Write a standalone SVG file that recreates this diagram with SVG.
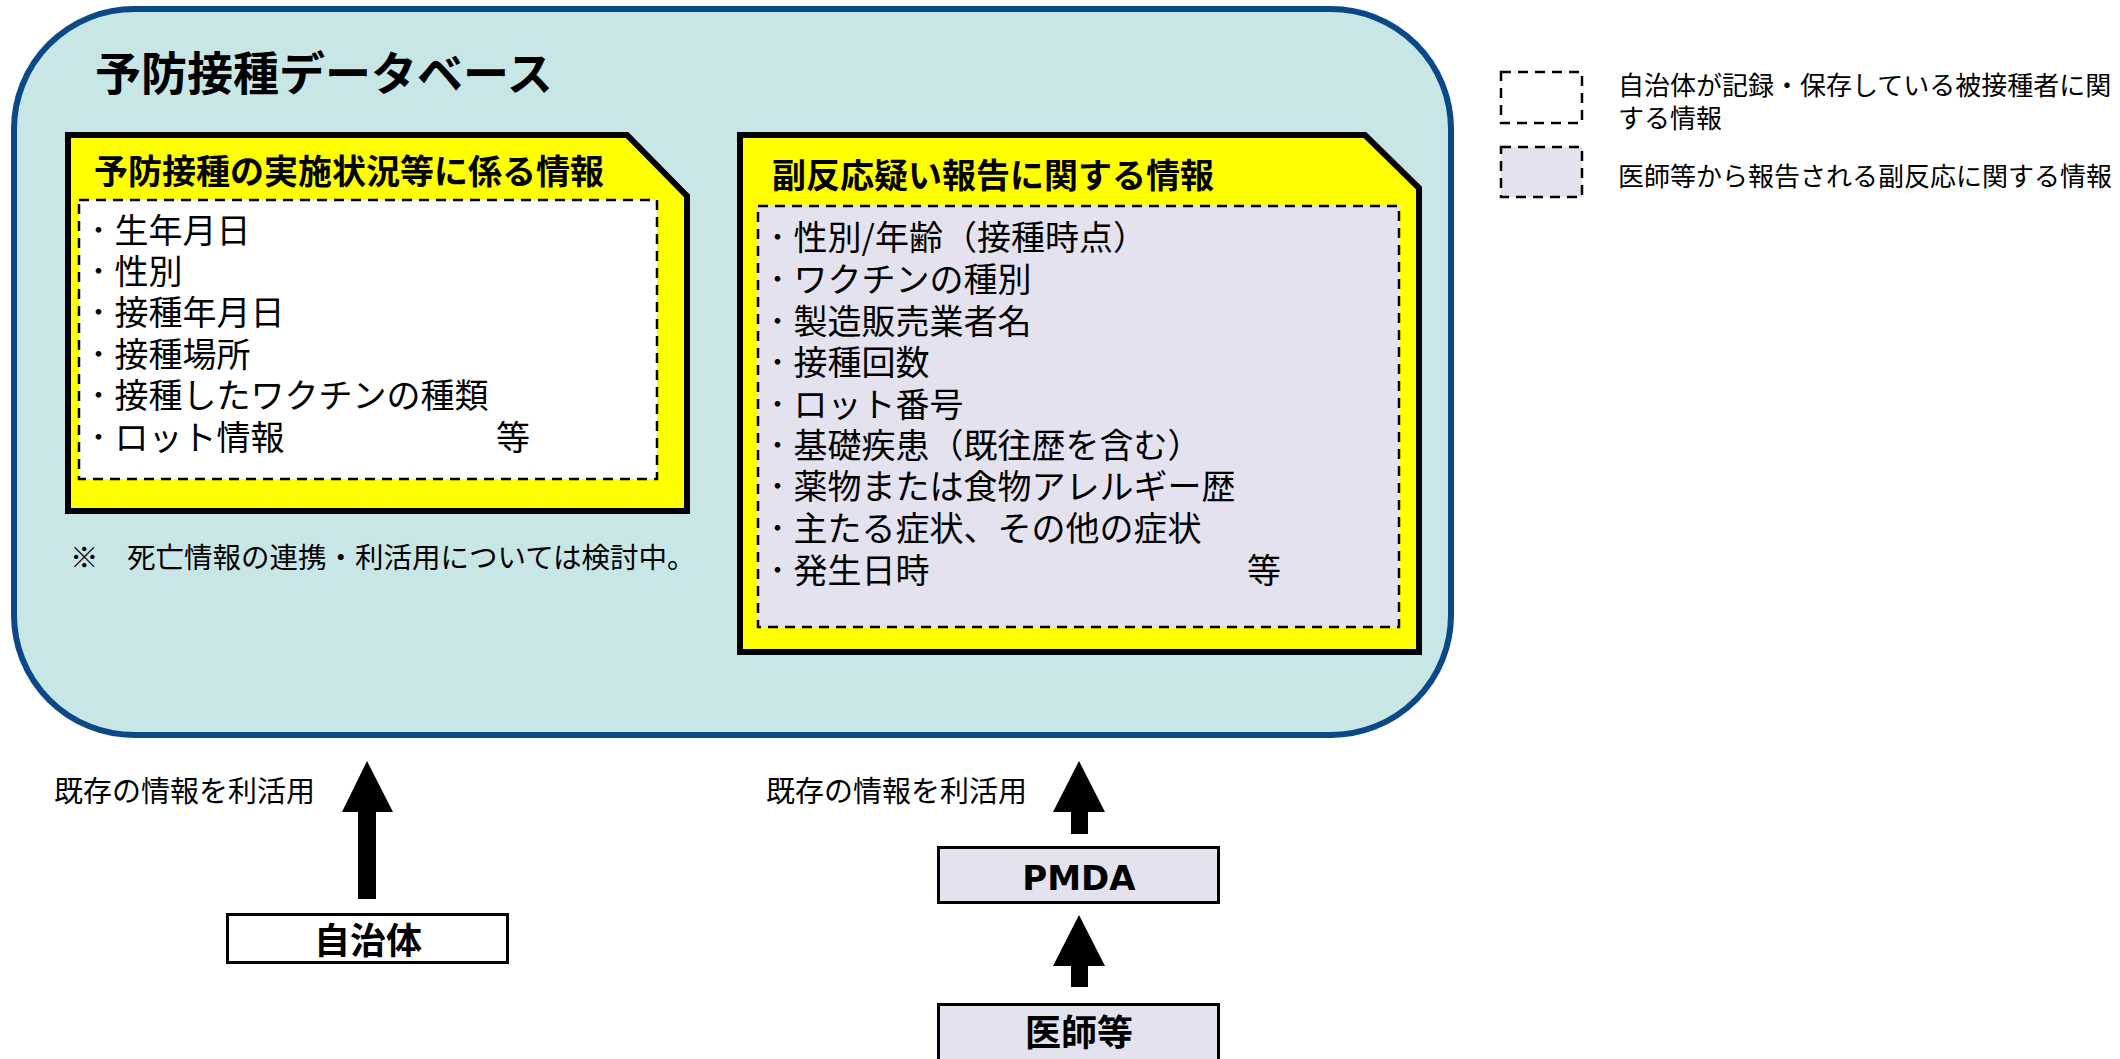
<svg xmlns="http://www.w3.org/2000/svg" width="2120" height="1059" viewBox="0 0 2120 1059">
<style>
.jp{font-family:"Noto Sans CJK JP","Noto Sans",sans-serif;fill:#000}
.b{font-weight:bold}
.item{font-size:34px}
.dash{stroke:#000;stroke-width:2.5;stroke-dasharray:10 7}
.yel{fill:#FFFF00;stroke:#000;stroke-width:6;stroke-linejoin:miter}
.lav{fill:#E3E2EE}
.node{stroke:#000;stroke-width:3}
.arrow{fill:#000}
</style>
<rect width="2120" height="1059" fill="#fff"/>
<g id="database">
<rect x="14" y="9" width="1437" height="726" rx="120" ry="120" fill="#C8E6E6" stroke="#0B4887" stroke-width="6"/>
<text class="jp b" x="95" y="90" font-size="46">予防接種データベース</text>
</g>
<g id="vaccination-info">
<path class="yel" d="M68 135 H627 L687 196 V511 H68 Z"/>
<text class="jp b" x="94" y="184" font-size="34">予防接種の実施状況等に係る情報</text>
<rect class="dash" x="79" y="200" width="578" height="279" fill="#fff"/>
<g class="jp item">
<text x="90" y="243">･ 生年月日</text>
<text x="90" y="284">･ 性別</text>
<text x="90" y="325">･ 接種年月日</text>
<text x="90" y="367">･ 接種場所</text>
<text x="90" y="408">･ 接種したワクチンの種類</text>
<text x="90" y="450">･ ロット情報</text>
<text x="496" y="450">等</text>
</g>
</g>
<g id="note">
<text class="jp" x="70" y="568" font-size="28.5">※　死亡情報の連携・利活用については検討中。</text>
</g>
<g id="adverse-reaction-info">
<path class="yel" d="M740 135 H1365 L1419 188 V652 H740 Z"/>
<text class="jp b" x="772" y="188" font-size="34">副反応疑い報告に関する情報</text>
<rect class="dash lav" x="758" y="206" width="641" height="421"/>
<g class="jp item">
<text x="769" y="250">･ 性別/年齢（接種時点）</text>
<text x="769" y="292">･ ワクチンの種別</text>
<text x="769" y="334">･ 製造販売業者名</text>
<text x="769" y="375">･ 接種回数</text>
<text x="769" y="417">･ ロット番号</text>
<text x="769" y="458">･ 基礎疾患（既往歴を含む）</text>
<text x="769" y="499">･ 薬物または食物アレルギー歴</text>
<text x="769" y="541">･ 主たる症状、その他の症状</text>
<text x="769" y="583">･ 発生日時</text>
<text x="1247" y="583">等</text>
</g>
</g>
<g id="legend">
<rect class="dash" x="1501" y="72" width="81" height="51" fill="#fff"/>
<text class="jp" x="1618" y="95" font-size="26">自治体が記録・保存している被接種者に関</text>
<text class="jp" x="1618" y="128" font-size="26">する情報</text>
<rect class="dash lav" x="1501" y="147" width="81" height="50"/>
<text class="jp" x="1618" y="186" font-size="26">医師等から報告される副反応に関する情報</text>
</g>
<g id="labels">
<text class="jp" x="54" y="802" font-size="29">既存の情報を利活用</text>
<text class="jp" x="766" y="802" font-size="29">既存の情報を利活用</text>
</g>
<g id="jichitai">
<rect class="node" x="227.5" y="914.5" width="280" height="48" fill="#fff"/>
<text class="jp b" x="368" y="954" font-size="36" text-anchor="middle">自治体</text>
</g>
<g id="pmda">
<rect class="node lav" x="938.5" y="847.5" width="280" height="55"/>
<text x="1079" y="890" font-size="34" font-weight="bold" font-family="DejaVu Sans, sans-serif" text-anchor="middle">PMDA</text>
</g>
<g id="ishi">
<rect class="node lav" x="938.5" y="1004.5" width="280" height="70"/>
<text class="jp b" x="1079" y="1046" font-size="36" text-anchor="middle">医師等</text>
</g>
<g id="connectors">
<path class="arrow" d="M367 761 L393 812 H376 V899 H358 V812 H342 Z"/>
<path class="arrow" d="M1079 761 L1105 812 H1088 V834 H1071 V812 H1053 Z"/>
<path class="arrow" d="M1079 915 L1105 966 H1088 V987 H1071 V966 H1053 Z"/>
</g>
</svg>
